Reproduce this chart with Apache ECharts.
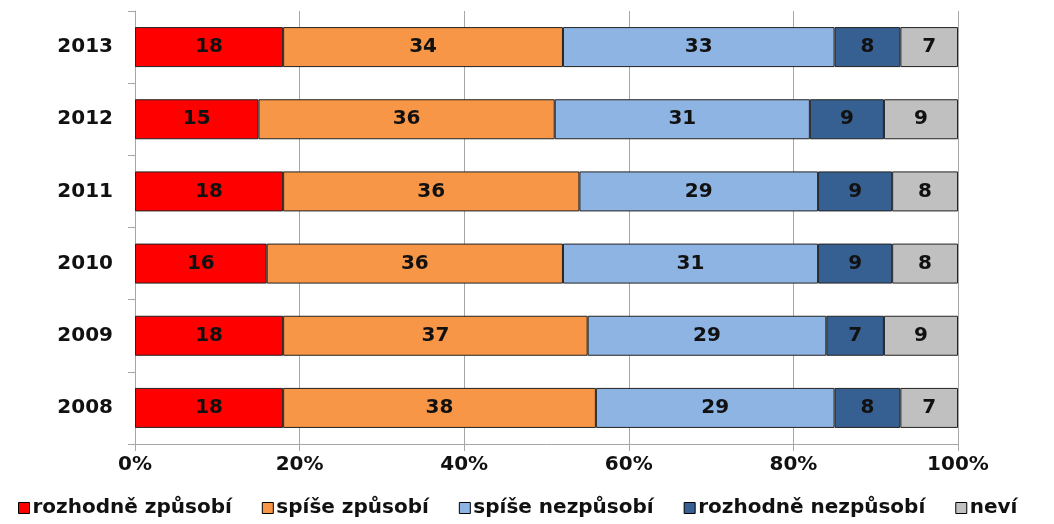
<!DOCTYPE html>
<html><head><meta charset="utf-8">
<script src="https://cdn.jsdelivr.net/npm/echarts@6/dist/echarts.min.js"></script>
<style>html,body{margin:0;padding:0;background:#fff}#c{width:1054px;height:524px}</style>
</head><body><div id="c"></div>
<script>
const categories = ['2008','2009','2010','2011','2012','2013'];
const seriesNames = ['rozhodně způsobí','spíše způsobí','spíše nezpůsobí','rozhodně nezpůsobí','neví'];
const rozhodneZpusobi = [18,18,16,18,15,18];
const spiseZpusobi = [38,37,36,36,36,34];
const spiseNezpusobi = [29,29,31,29,31,33];
const rozhodneNezpusobi = [8,7,9,9,9,8];
const nevi = [7,9,8,8,9,7];
const xTicks = ['0%','20%','40%','60%','80%','100%'];

const colors = ['#FF0000','#F79646','#8EB4E3','#376092','#C0C0C0'];
const values = [rozhodneZpusobi, spiseZpusobi, spiseNezpusobi, rozhodneNezpusobi, nevi];
const font = 'DejaVu Sans';

const chart = echarts.init(document.getElementById('c'));
chart.setOption({
  animation:false,
  grid:{left:135,right:96,top:11,bottom:80},
  xAxis:{type:'value',min:0,max:100,interval:20,
    axisLine:{show:true,lineStyle:{color:'#a6a6a6'}},
    axisTick:{show:true,length:7,lineStyle:{color:'#a6a6a6'}},
    splitLine:{show:true,lineStyle:{color:'#a6a6a6',width:1}},
    axisLabel:{formatter:(v)=>xTicks[v/20],fontFamily:font,fontWeight:'bold',fontSize:20,color:'#111',margin:11}
  },
  yAxis:{type:'category',data:categories,
    axisLine:{show:true,lineStyle:{color:'#a6a6a6'}},
    axisTick:{show:true,length:7,lineStyle:{color:'#a6a6a6'}},
    axisLabel:{fontFamily:font,fontWeight:'bold',fontSize:20,color:'#111',margin:22}
  },
  legend:{bottom:1,left:13,itemWidth:11,itemHeight:11,itemGap:30,icon:'rect',
    textStyle:{fontFamily:font,fontWeight:'bold',fontSize:20,color:'#111',padding:[0,0,0,-2]},
    itemStyle:{borderColor:'#000',borderWidth:1}},
  series:seriesNames.map((n,i)=>({
    name:n,type:'bar',stack:'s',barWidth:40,data:values[i],
    itemStyle:{color:colors[i],borderColor:'#222',borderWidth:1},
    label:{show:true,position:'inside',fontFamily:font,fontWeight:'bold',fontSize:20,color:'#111'}
  }))
});
</script></body></html>
